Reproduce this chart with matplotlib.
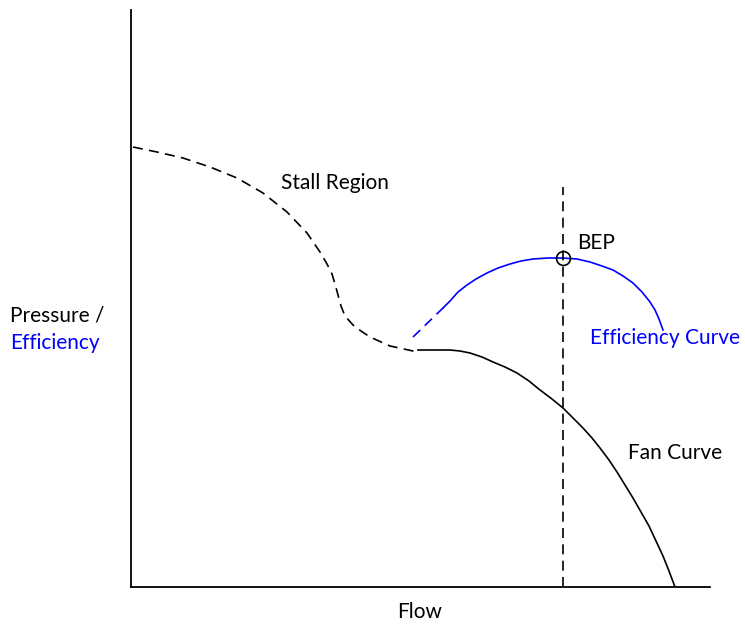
import matplotlib
matplotlib.use("Agg")
import matplotlib.pyplot as plt

plt.rcParams['font.family'] = ['Lato', 'DejaVu Sans']

# Curve points (flow, pressure in arbitrary units)
stall_flow = [2, 26, 52, 79, 106, 132, 156, 176, 189, 196, 201, 204, 207, 210, 214, 222, 230, 239, 259, 282, 287]
stall_pres = [440, 435, 429, 420, 409, 394, 375, 354, 335, 323, 313, 303, 292, 281, 271, 262, 256, 250, 241, 236, 237]

fan_flow = [287, 300, 319, 329, 339, 351, 362, 374, 386, 398, 409, 421, 432, 442, 452, 461,
            469, 478, 486, 494, 502, 510, 518, 525, 532, 538, 544]
fan_pres = [237, 237, 237, 236, 234, 230, 225, 220, 214, 206, 197, 188, 179, 169, 159, 149,
            139, 127, 115, 102, 89, 75, 61, 46, 31, 16, 0]

eff_dash_flow = [282, 312]
eff_dash_val = [250, 279]

eff_flow = [312, 319, 327, 336, 345, 356, 367, 379, 390, 402, 417, 432, 446, 459, 471, 482,
            492, 502, 511, 519, 524, 528, 532]
eff_val = [279, 286, 295, 302, 308, 314, 319, 323, 326, 328, 329, 329, 328, 325, 321, 317,
           311, 304, 295, 285, 277, 268, 257]

bep_flow = 432
bep_val = 329
bep_line_top = 400

fig = plt.figure(figsize=(7.45, 6.26), dpi=100)
ax = fig.add_axes([131/745, 39/626, 579/745, 577/626])
ax.set_xlim(0, 579)
ax.set_ylim(0, 577)

blue = '#0000FF'
dash = (0, (6, 3.8))
lw = 1.2

ax.plot(stall_flow, stall_pres, color='black', lw=lw, linestyle=dash)
ax.plot(fan_flow, fan_pres, color='black', lw=lw)
ax.plot(eff_dash_flow, eff_dash_val, color=blue, lw=lw, linestyle=dash)
ax.plot(eff_flow, eff_val, color=blue, lw=lw)
ax.plot([bep_flow, bep_flow], [0, bep_line_top], color='black', lw=lw, linestyle=dash)
ax.plot([bep_flow], [bep_val], marker='o', markersize=10, markerfacecolor='none',
        markeredgecolor='black', markeredgewidth=1.2)

for s in ['top', 'right']:
    ax.spines[s].set_visible(False)
for s in ['left', 'bottom']:
    ax.spines[s].set_linewidth(1.3)
ax.set_xticks([])
ax.set_yticks([])

fs = 15
ax.text(204, 404, 'Stall Region', fontsize=fs, ha='center', va='center')
ax.text(446, 344, 'BEP', fontsize=fs, ha='left', va='center')
ax.text(459, 249, 'Efficiency Curve', fontsize=fs, ha='left', va='center', color=blue)
ax.text(497, 134, 'Fan Curve', fontsize=fs, ha='left', va='center')

fig.text(10/745, 1 - 316/626, 'Pressure /', fontsize=fs, ha='left', va='center')
fig.text(10/745, 1 - 343/626, 'Efficiency', fontsize=fs, ha='left', va='center', color=blue)
fig.text(420/745, 1 - 612/626, 'Flow', fontsize=fs, ha='center', va='center')

fig.savefig('out.png', dpi=100)
